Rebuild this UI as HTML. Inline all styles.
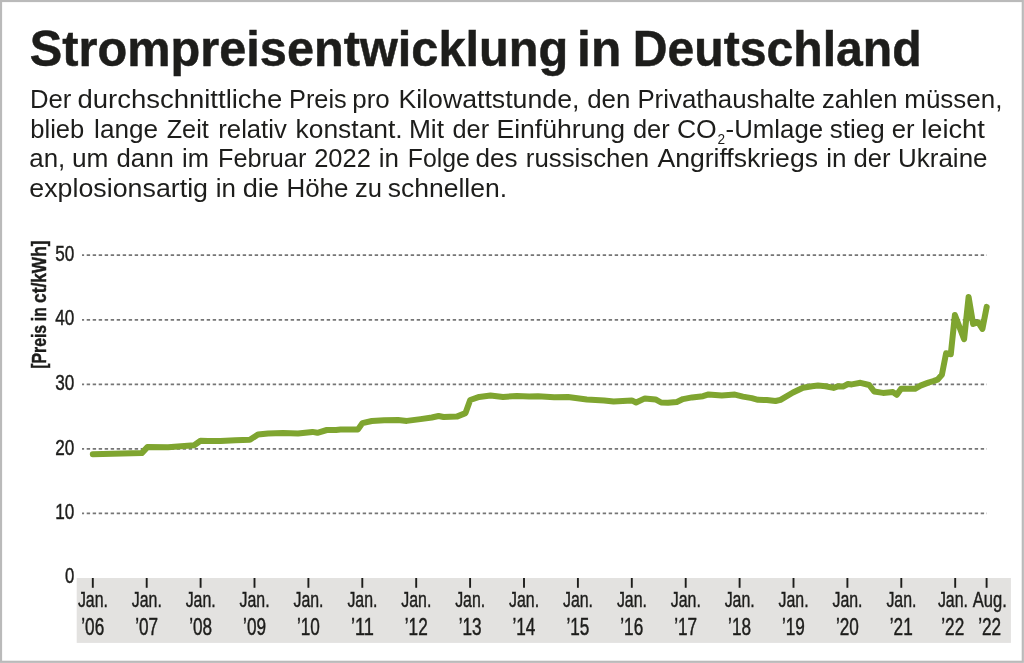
<!DOCTYPE html>
<html lang="de">
<head>
<meta charset="utf-8">
<title>Strompreisentwicklung in Deutschland</title>
<style>
html,body{margin:0;padding:0;background:#fff;}
body{width:1024px;height:663px;overflow:hidden;font-family:"Liberation Sans",sans-serif;}
svg{display:block;}
.t{font-family:"Liberation Sans",sans-serif;fill:#1d1d1b;}
</style>
</head>
<body>
<svg width="1024" height="663" viewBox="0 0 1024 663">
<rect x="0" y="0" width="1024" height="663" fill="#ffffff"/>
<text class="t" y="65.9" font-size="50" font-weight="bold" stroke="#1d1d1b" stroke-width="0.5"><tspan x="29.8" textLength="538.5" lengthAdjust="spacingAndGlyphs">Strompreisentwicklung</tspan> <tspan x="577.1" textLength="44.1" lengthAdjust="spacingAndGlyphs">in</tspan> <tspan x="632.8" textLength="288.9" lengthAdjust="spacingAndGlyphs">Deutschland</tspan></text>
<text class="t" y="108" font-size="25"><tspan x="29.9" textLength="41.4" lengthAdjust="spacingAndGlyphs">Der</tspan> <tspan x="77.4" textLength="204.8" lengthAdjust="spacingAndGlyphs">durchschnittliche</tspan> <tspan x="289.0" textLength="57.7" lengthAdjust="spacingAndGlyphs">Preis</tspan> <tspan x="352.3" textLength="37.5" lengthAdjust="spacingAndGlyphs">pro</tspan> <tspan x="398.4" textLength="181.0" lengthAdjust="spacingAndGlyphs">Kilowattstunde,</tspan> <tspan x="587.2" textLength="43.2" lengthAdjust="spacingAndGlyphs">den</tspan> <tspan x="637.4" textLength="178.1" lengthAdjust="spacingAndGlyphs">Privathaushalte</tspan> <tspan x="822.0" textLength="75.5" lengthAdjust="spacingAndGlyphs">zahlen</tspan> <tspan x="904.3" textLength="98.1" lengthAdjust="spacingAndGlyphs">müssen,</tspan></text>
<text class="t" y="137.7" font-size="25"><tspan x="30.3" textLength="54.0" lengthAdjust="spacingAndGlyphs">blieb</tspan> <tspan x="94.1" textLength="63.9" lengthAdjust="spacingAndGlyphs">lange</tspan> <tspan x="166.7" textLength="42.1" lengthAdjust="spacingAndGlyphs">Zeit</tspan> <tspan x="218.3" textLength="68.5" lengthAdjust="spacingAndGlyphs">relativ</tspan> <tspan x="295.5" textLength="107.2" lengthAdjust="spacingAndGlyphs">konstant.</tspan> <tspan x="408.9" textLength="35.1" lengthAdjust="spacingAndGlyphs">Mit</tspan> <tspan x="452.5" textLength="36.6" lengthAdjust="spacingAndGlyphs">der</tspan> <tspan x="496.4" textLength="128.7" lengthAdjust="spacingAndGlyphs">Einführung</tspan> <tspan x="633.0" textLength="36.7" lengthAdjust="spacingAndGlyphs">der</tspan> <tspan x="676.9" textLength="39.8" lengthAdjust="spacingAndGlyphs">CO</tspan><tspan x="717.6" dy="6.5" font-size="14.5" textLength="7.6" lengthAdjust="spacingAndGlyphs">2</tspan><tspan x="725.6" dy="-6.5" textLength="97.5" lengthAdjust="spacingAndGlyphs">-Umlage</tspan> <tspan x="829.7" textLength="55.0" lengthAdjust="spacingAndGlyphs">stieg</tspan> <tspan x="891.8" textLength="22.8" lengthAdjust="spacingAndGlyphs">er</tspan> <tspan x="921.2" textLength="63.6" lengthAdjust="spacingAndGlyphs">leicht</tspan></text>
<text class="t" y="167.4" font-size="25"><tspan x="29.3" textLength="36.0" lengthAdjust="spacingAndGlyphs">an,</tspan> <tspan x="72.0" textLength="36.5" lengthAdjust="spacingAndGlyphs">um</tspan> <tspan x="116.5" textLength="57.2" lengthAdjust="spacingAndGlyphs">dann</tspan> <tspan x="182.1" textLength="26.9" lengthAdjust="spacingAndGlyphs">im</tspan> <tspan x="218.0" textLength="88.3" lengthAdjust="spacingAndGlyphs">Februar</tspan> <tspan x="314.2" textLength="56.6" lengthAdjust="spacingAndGlyphs">2022</tspan><tspan x="378.8" textLength="20.2" lengthAdjust="spacingAndGlyphs">in</tspan> <tspan x="407.8" textLength="62.1" lengthAdjust="spacingAndGlyphs">Folge</tspan> <tspan x="475.5" textLength="42.1" lengthAdjust="spacingAndGlyphs">des</tspan> <tspan x="525.8" textLength="123.4" lengthAdjust="spacingAndGlyphs">russischen</tspan> <tspan x="657.4" textLength="160.6" lengthAdjust="spacingAndGlyphs">Angriffskriegs</tspan> <tspan x="826.3" textLength="20.3" lengthAdjust="spacingAndGlyphs">in</tspan> <tspan x="853.5" textLength="37.1" lengthAdjust="spacingAndGlyphs">der</tspan> <tspan x="898.1" textLength="89.4" lengthAdjust="spacingAndGlyphs">Ukraine</tspan></text>
<text class="t" y="197.1" font-size="25"><tspan x="29.3" textLength="178.7" lengthAdjust="spacingAndGlyphs">explosionsartig</tspan> <tspan x="215.8" textLength="20.2" lengthAdjust="spacingAndGlyphs">in</tspan> <tspan x="242.7" textLength="36.3" lengthAdjust="spacingAndGlyphs">die</tspan> <tspan x="286.4" textLength="62.1" lengthAdjust="spacingAndGlyphs">Höhe</tspan> <tspan x="355.0" textLength="27.0" lengthAdjust="spacingAndGlyphs">zu</tspan> <tspan x="387.7" textLength="119.4" lengthAdjust="spacingAndGlyphs">schnellen.</tspan></text>
<rect x="76.7" y="578" width="934.2" height="64.9" fill="#e3e2e0"/>
<line x1="82" y1="255.2" x2="987" y2="255.2" stroke="#767676" stroke-width="1.8" stroke-dasharray="3.4 2.6" stroke-dashoffset="1.3"/>
<line x1="82" y1="319.8" x2="987" y2="319.8" stroke="#767676" stroke-width="1.8" stroke-dasharray="3.4 2.6" stroke-dashoffset="1.3"/>
<line x1="82" y1="384.3" x2="987" y2="384.3" stroke="#767676" stroke-width="1.8" stroke-dasharray="3.4 2.6" stroke-dashoffset="1.3"/>
<line x1="82" y1="448.85" x2="987" y2="448.85" stroke="#767676" stroke-width="1.8" stroke-dasharray="3.4 2.6" stroke-dashoffset="1.3"/>
<line x1="82" y1="513.4" x2="987" y2="513.4" stroke="#767676" stroke-width="1.8" stroke-dasharray="3.4 2.6" stroke-dashoffset="1.3"/>
<text class="t" x="55.3" y="260.8" font-size="22.5" stroke="#1d1d1b" stroke-width="0.45" textLength="19.1" lengthAdjust="spacingAndGlyphs">50</text>
<text class="t" x="55.3" y="325.4" font-size="22.5" stroke="#1d1d1b" stroke-width="0.45" textLength="19.1" lengthAdjust="spacingAndGlyphs">40</text>
<text class="t" x="55.3" y="389.9" font-size="22.5" stroke="#1d1d1b" stroke-width="0.45" textLength="19.1" lengthAdjust="spacingAndGlyphs">30</text>
<text class="t" x="55.3" y="454.5" font-size="22.5" stroke="#1d1d1b" stroke-width="0.45" textLength="19.1" lengthAdjust="spacingAndGlyphs">20</text>
<text class="t" x="55.3" y="519.0" font-size="22.5" stroke="#1d1d1b" stroke-width="0.45" textLength="19.1" lengthAdjust="spacingAndGlyphs">10</text>
<text class="t" x="65.1" y="582.9" font-size="22.5" stroke="#1d1d1b" stroke-width="0.45" textLength="9.3" lengthAdjust="spacingAndGlyphs">0</text>
<text class="t" transform="translate(46.4,368) rotate(-90)" font-size="20" font-weight="bold" stroke="#1d1d1b" stroke-width="0.45"><tspan x="-0.8" textLength="43.9" lengthAdjust="spacingAndGlyphs">[Preis</tspan> <tspan x="46.8" textLength="13.9" lengthAdjust="spacingAndGlyphs">in</tspan> <tspan x="65.0" textLength="62.6" lengthAdjust="spacingAndGlyphs">ct/kWh]</tspan></text>
<line x1="92.8" y1="578" x2="92.8" y2="587.8" stroke="#1d1d1b" stroke-width="1.9"/>
<text class="t" x="77.9" y="607.3" font-size="22" stroke="#1d1d1b" stroke-width="0.45" textLength="30.0" lengthAdjust="spacingAndGlyphs">Jan.</text>
<text class="t" x="81.3" y="634.5" font-size="23" stroke="#1d1d1b" stroke-width="0.45" textLength="22.9" lengthAdjust="spacingAndGlyphs">’06</text>
<line x1="146.7" y1="578" x2="146.7" y2="587.8" stroke="#1d1d1b" stroke-width="1.9"/>
<text class="t" x="131.8" y="607.3" font-size="22" stroke="#1d1d1b" stroke-width="0.45" textLength="30.0" lengthAdjust="spacingAndGlyphs">Jan.</text>
<text class="t" x="135.2" y="634.5" font-size="23" stroke="#1d1d1b" stroke-width="0.45" textLength="22.9" lengthAdjust="spacingAndGlyphs">’07</text>
<line x1="200.6" y1="578" x2="200.6" y2="587.8" stroke="#1d1d1b" stroke-width="1.9"/>
<text class="t" x="185.7" y="607.3" font-size="22" stroke="#1d1d1b" stroke-width="0.45" textLength="30.0" lengthAdjust="spacingAndGlyphs">Jan.</text>
<text class="t" x="189.2" y="634.5" font-size="23" stroke="#1d1d1b" stroke-width="0.45" textLength="22.9" lengthAdjust="spacingAndGlyphs">’08</text>
<line x1="254.5" y1="578" x2="254.5" y2="587.8" stroke="#1d1d1b" stroke-width="1.9"/>
<text class="t" x="239.6" y="607.3" font-size="22" stroke="#1d1d1b" stroke-width="0.45" textLength="30.0" lengthAdjust="spacingAndGlyphs">Jan.</text>
<text class="t" x="243.1" y="634.5" font-size="23" stroke="#1d1d1b" stroke-width="0.45" textLength="22.9" lengthAdjust="spacingAndGlyphs">’09</text>
<line x1="308.4" y1="578" x2="308.4" y2="587.8" stroke="#1d1d1b" stroke-width="1.9"/>
<text class="t" x="293.5" y="607.3" font-size="22" stroke="#1d1d1b" stroke-width="0.45" textLength="30.0" lengthAdjust="spacingAndGlyphs">Jan.</text>
<text class="t" x="296.9" y="634.5" font-size="23" stroke="#1d1d1b" stroke-width="0.45" textLength="22.9" lengthAdjust="spacingAndGlyphs">’10</text>
<line x1="362.3" y1="578" x2="362.3" y2="587.8" stroke="#1d1d1b" stroke-width="1.9"/>
<text class="t" x="347.4" y="607.3" font-size="22" stroke="#1d1d1b" stroke-width="0.45" textLength="30.0" lengthAdjust="spacingAndGlyphs">Jan.</text>
<text class="t" x="350.9" y="634.5" font-size="23" stroke="#1d1d1b" stroke-width="0.45" textLength="22.9" lengthAdjust="spacingAndGlyphs">’11</text>
<line x1="416.2" y1="578" x2="416.2" y2="587.8" stroke="#1d1d1b" stroke-width="1.9"/>
<text class="t" x="401.3" y="607.3" font-size="22" stroke="#1d1d1b" stroke-width="0.45" textLength="30.0" lengthAdjust="spacingAndGlyphs">Jan.</text>
<text class="t" x="404.8" y="634.5" font-size="23" stroke="#1d1d1b" stroke-width="0.45" textLength="22.9" lengthAdjust="spacingAndGlyphs">’12</text>
<line x1="470.1" y1="578" x2="470.1" y2="587.8" stroke="#1d1d1b" stroke-width="1.9"/>
<text class="t" x="455.2" y="607.3" font-size="22" stroke="#1d1d1b" stroke-width="0.45" textLength="30.0" lengthAdjust="spacingAndGlyphs">Jan.</text>
<text class="t" x="458.7" y="634.5" font-size="23" stroke="#1d1d1b" stroke-width="0.45" textLength="22.9" lengthAdjust="spacingAndGlyphs">’13</text>
<line x1="524.0" y1="578" x2="524.0" y2="587.8" stroke="#1d1d1b" stroke-width="1.9"/>
<text class="t" x="509.1" y="607.3" font-size="22" stroke="#1d1d1b" stroke-width="0.45" textLength="30.0" lengthAdjust="spacingAndGlyphs">Jan.</text>
<text class="t" x="512.5" y="634.5" font-size="23" stroke="#1d1d1b" stroke-width="0.45" textLength="22.9" lengthAdjust="spacingAndGlyphs">’14</text>
<line x1="577.9" y1="578" x2="577.9" y2="587.8" stroke="#1d1d1b" stroke-width="1.9"/>
<text class="t" x="563.0" y="607.3" font-size="22" stroke="#1d1d1b" stroke-width="0.45" textLength="30.0" lengthAdjust="spacingAndGlyphs">Jan.</text>
<text class="t" x="566.4" y="634.5" font-size="23" stroke="#1d1d1b" stroke-width="0.45" textLength="22.9" lengthAdjust="spacingAndGlyphs">’15</text>
<line x1="631.8" y1="578" x2="631.8" y2="587.8" stroke="#1d1d1b" stroke-width="1.9"/>
<text class="t" x="616.9" y="607.3" font-size="22" stroke="#1d1d1b" stroke-width="0.45" textLength="30.0" lengthAdjust="spacingAndGlyphs">Jan.</text>
<text class="t" x="620.3" y="634.5" font-size="23" stroke="#1d1d1b" stroke-width="0.45" textLength="22.9" lengthAdjust="spacingAndGlyphs">’16</text>
<line x1="685.7" y1="578" x2="685.7" y2="587.8" stroke="#1d1d1b" stroke-width="1.9"/>
<text class="t" x="670.8" y="607.3" font-size="22" stroke="#1d1d1b" stroke-width="0.45" textLength="30.0" lengthAdjust="spacingAndGlyphs">Jan.</text>
<text class="t" x="674.2" y="634.5" font-size="23" stroke="#1d1d1b" stroke-width="0.45" textLength="22.9" lengthAdjust="spacingAndGlyphs">’17</text>
<line x1="739.6" y1="578" x2="739.6" y2="587.8" stroke="#1d1d1b" stroke-width="1.9"/>
<text class="t" x="724.7" y="607.3" font-size="22" stroke="#1d1d1b" stroke-width="0.45" textLength="30.0" lengthAdjust="spacingAndGlyphs">Jan.</text>
<text class="t" x="728.1" y="634.5" font-size="23" stroke="#1d1d1b" stroke-width="0.45" textLength="22.9" lengthAdjust="spacingAndGlyphs">’18</text>
<line x1="793.5" y1="578" x2="793.5" y2="587.8" stroke="#1d1d1b" stroke-width="1.9"/>
<text class="t" x="778.6" y="607.3" font-size="22" stroke="#1d1d1b" stroke-width="0.45" textLength="30.0" lengthAdjust="spacingAndGlyphs">Jan.</text>
<text class="t" x="782.0" y="634.5" font-size="23" stroke="#1d1d1b" stroke-width="0.45" textLength="22.9" lengthAdjust="spacingAndGlyphs">’19</text>
<line x1="847.4" y1="578" x2="847.4" y2="587.8" stroke="#1d1d1b" stroke-width="1.9"/>
<text class="t" x="832.5" y="607.3" font-size="22" stroke="#1d1d1b" stroke-width="0.45" textLength="30.0" lengthAdjust="spacingAndGlyphs">Jan.</text>
<text class="t" x="835.9" y="634.5" font-size="23" stroke="#1d1d1b" stroke-width="0.45" textLength="22.9" lengthAdjust="spacingAndGlyphs">’20</text>
<line x1="901.3" y1="578" x2="901.3" y2="587.8" stroke="#1d1d1b" stroke-width="1.9"/>
<text class="t" x="886.4" y="607.3" font-size="22" stroke="#1d1d1b" stroke-width="0.45" textLength="30.0" lengthAdjust="spacingAndGlyphs">Jan.</text>
<text class="t" x="889.8" y="634.5" font-size="23" stroke="#1d1d1b" stroke-width="0.45" textLength="22.9" lengthAdjust="spacingAndGlyphs">’21</text>
<line x1="955.2" y1="578" x2="955.2" y2="587.8" stroke="#1d1d1b" stroke-width="1.9"/>
<text class="t" x="937.9" y="607.3" font-size="22" stroke="#1d1d1b" stroke-width="0.45" textLength="30.0" lengthAdjust="spacingAndGlyphs">Jan.</text>
<text class="t" x="941.3" y="634.5" font-size="23" stroke="#1d1d1b" stroke-width="0.45" textLength="22.9" lengthAdjust="spacingAndGlyphs">’22</text>
<line x1="986.6" y1="578" x2="986.6" y2="587.8" stroke="#1d1d1b" stroke-width="1.9"/>
<text class="t" x="972.8" y="607.3" font-size="22" stroke="#1d1d1b" stroke-width="0.45" textLength="34.1" lengthAdjust="spacingAndGlyphs">Aug.</text>
<text class="t" x="978.2" y="634.5" font-size="23" stroke="#1d1d1b" stroke-width="0.45" textLength="22.9" lengthAdjust="spacingAndGlyphs">’22</text>
<path d="M92.8,454.3 L141.8,453.1 L147.4,447.1 L168.0,447.2 L194.2,445.2 L200.5,440.8 L208.0,441.0 L220.5,441.1 L235.5,440.2 L249.9,439.8 L258.0,434.4 L268.0,433.4 L283.0,432.9 L298.0,433.5 L312.4,431.9 L317.4,432.8 L326.8,430.0 L336.0,429.9 L340.5,429.5 L358.0,429.4 L362.4,423.1 L371.8,421.0 L384.2,420.2 L398.0,420.0 L406.8,420.9 L420.5,419.1 L431.8,417.5 L438.6,416.0 L443.6,417.0 L456.8,416.6 L465.5,413.1 L470.2,400.0 L479.2,396.9 L490.5,395.6 L503.0,396.9 L516.8,396.0 L529.2,396.5 L538.0,396.2 L554.2,397.2 L568.0,397.1 L586.8,399.4 L604.2,400.4 L613.6,401.6 L631.8,400.4 L636.1,402.5 L644.9,398.4 L655.5,399.4 L661.1,402.5 L668.0,402.8 L676.8,401.9 L683.0,399.1 L692.0,397.4 L703.0,396.2 L708.6,394.4 L721.8,395.4 L734.9,394.6 L743.0,396.6 L751.8,398.1 L758.0,399.8 L766.8,400.0 L775.5,401.0 L780.5,399.8 L793.0,392.5 L803.0,387.8 L812.0,386.2 L818.0,385.6 L825.5,386.2 L833.6,387.9 L838.6,386.2 L843.0,386.6 L848.0,384.0 L851.8,384.4 L860.5,382.8 L869.2,385.0 L874.2,391.5 L883.0,392.9 L893.0,392.1 L896.8,394.8 L901.1,388.8 L914.9,388.8 L920.5,385.6 L928.3,382.6 L933.3,381.2 L937.5,379.7 L941.9,374.8 L946.1,353.2 L950.8,354.3 L954.9,315.1 L964.1,339.1 L968.6,297.0 L973.1,324.0 L978.1,322.2 L982.4,328.9 L986.7,306.9" fill="none" stroke="#7fa530" stroke-width="6" stroke-linecap="round" stroke-linejoin="round"/>
<rect x="1" y="1" width="1021.8" height="660.8" fill="none" stroke="#bababa" stroke-width="2.2"/>
</svg>
</body>
</html>
